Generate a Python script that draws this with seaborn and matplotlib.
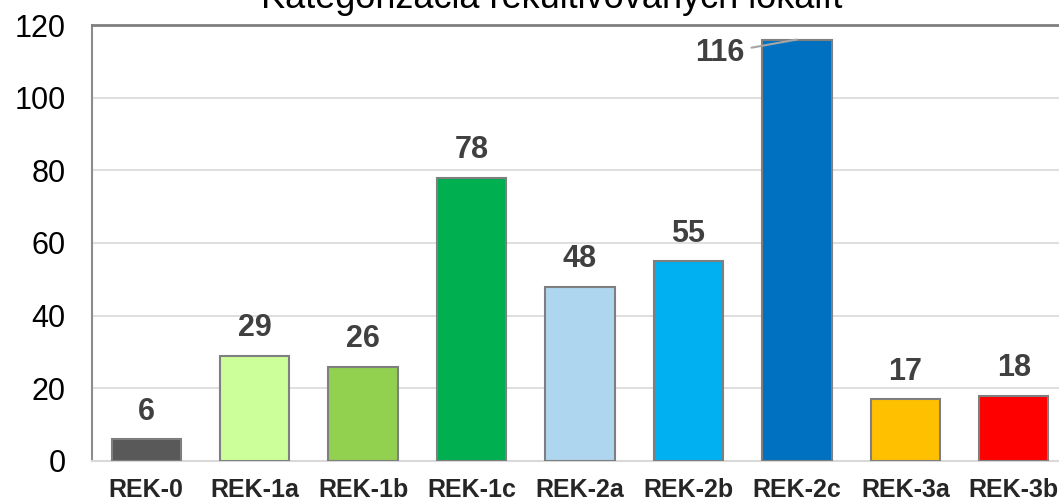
import matplotlib
matplotlib.use("Agg")
import matplotlib.pyplot as plt
import seaborn as sns

# chart data
categories = ["REK-0", "REK-1a", "REK-1b", "REK-1c", "REK-2a",
              "REK-2b", "REK-2c", "REK-3a", "REK-3b"]
counts = [6, 29, 26, 78, 48, 55, 116, 17, 18]
bar_colors = ["#595959", "#CCFF99", "#92D050", "#00B050", "#AED6EF",
              "#00B0F0", "#0070C0", "#FFC000", "#FF0000"]
title = "Kategorizácia rekultivovaných lokalít"

sns.set_style("white")
plt.rcParams['font.family'] = ['Liberation Sans', 'DejaVu Sans']

fig = plt.figure(figsize=(10.59, 5.03), dpi=100)
ax = fig.add_axes([92 / 1059, 42 / 503, 976 / 1059, 436 / 503])

sns.barplot(x=categories, y=counts, hue=categories, palette=bar_colors,
            legend=False, width=0.64, saturation=1, edgecolor="#7F7F7F",
            linewidth=1.5, ax=ax, zorder=3)

ax.set_ylim(0, 120)
ax.set_xlim(-0.5, len(categories) - 0.5)
ax.set_yticks(range(0, 121, 20))
ax.yaxis.grid(True, color="#D9D9D9", linewidth=1.2, zorder=0)
ax.set_axisbelow(True)
ax.tick_params(axis="y", length=0, pad=19, labelsize=22, labelcolor="#000000")
ax.tick_params(axis="x", length=0, pad=12)
for lab in ax.get_xticklabels():
    lab.set_fontweight("bold")
    lab.set_fontsize(18)
ax.set_xlabel("")
ax.set_ylabel("")

ax.spines["left"].set_color("#8C8C8C")
ax.spines["left"].set_linewidth(1.5)
ax.spines["top"].set_color("#7F7F7F")
ax.spines["top"].set_linewidth(2)
ax.spines["bottom"].set_color("#D9D9D9")
ax.spines["bottom"].set_linewidth(1.5)
ax.spines["right"].set_visible(False)

# value labels
for i, v in enumerate(counts):
    if v == max(counts):
        ax.annotate(str(v), xy=(i, v), xytext=(-38, -10),
                    textcoords="offset points", ha="right", va="center",
                    fontsize=22, fontweight="bold", color="#404040",
                    arrowprops=dict(arrowstyle="-", color="#A6A6A6", lw=1.5,
                                    shrinkA=3, shrinkB=0))
    else:
        ax.annotate(str(v), xy=(i, v), xytext=(0, 9),
                    textcoords="offset points", ha="center", va="bottom",
                    fontsize=22, fontweight="bold", color="#404040")

fig.text(552 / 1059, 1 - 8 / 503, title, ha="center", va="baseline",
         fontsize=26, color="#000000")

fig.savefig("out.png", dpi=100)
